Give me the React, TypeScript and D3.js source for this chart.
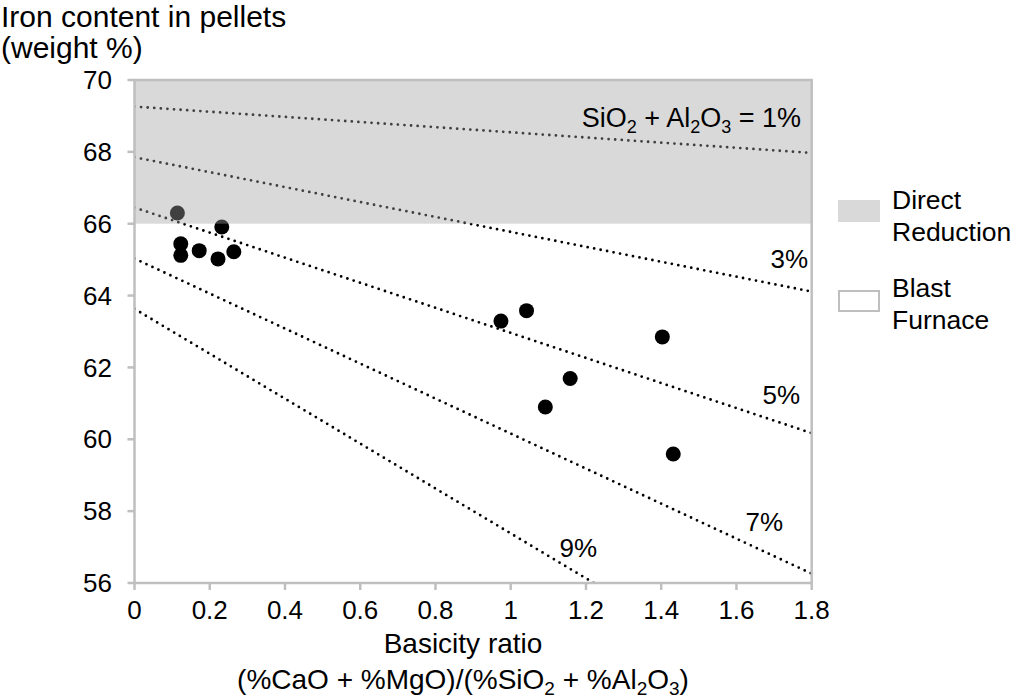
import React from "react";
import * as d3 from "d3";

// Pellet samples: basicity ratio vs iron content (weight %)
const basicity = [0.114, 0.232, 0.123, 0.123, 0.172, 0.222, 0.264, 0.974, 1.042, 1.403, 1.158, 1.092, 1.432];
const ironContent = [66.3, 65.91, 65.44, 65.12, 65.25, 65.02, 65.22, 63.29, 63.58, 62.85, 61.69, 60.9, 59.59];

// Iso-gangue lines (SiO2 + Al2O3 content): iron at basicity 0 and at basicity 1.8
const gangueLabels = ["1%", "3%", "5%", "7%", "9%"];
const ironAtZero = [69.26, 67.85, 66.45, 65.03, 63.63];
const ironAtMax = [67.97, 64.11, 60.17, 56.26, 52.38];

const xTicks = [0, 0.2, 0.4, 0.6, 0.8, 1, 1.2, 1.4, 1.6, 1.8];
const yTicks = [56, 58, 60, 62, 64, 66, 68, 70];
const directReductionMin = 66;

const W = 1015;
const H = 700;
const left = 134.5;
const right = 811.7;
const top = 80;
const bottom = 583;

const FONT = "'Liberation Sans', Arial, sans-serif";
const AXIS = "#bfbfbf";

function Chem({ parts, subSize }: { parts: Array<[string, boolean]>; subSize: number }) {
  // alternating normal / subscript runs
  let shifted = false;
  return (
    <>
      {parts.map(([s, sub], i) => {
        const dy = sub && !shifted ? 6 : !sub && shifted ? -6 : 0;
        shifted = sub;
        return (
          <tspan key={i} dy={dy} fontSize={sub ? subSize : undefined}>
            {s}
          </tspan>
        );
      })}
    </>
  );
}

export default function App() {
  const x = d3.scaleLinear().domain([0, 1.8]).range([left, right]);
  const y = d3.scaleLinear().domain([56, 70]).range([bottom, top]);
  const line = d3
    .line<[number, number]>()
    .x((d) => x(d[0]))
    .y((d) => y(d[1]));

  const fs = 26;
  const titleFs = 30;
  const xTitleFs = 28;

  return (
    <div style={{ position: "absolute", left: 0, top: 0 }}>
      <svg width={W} height={H} style={{ display: "block", background: "#fff" }} fontFamily={FONT}>
        <defs>
          <clipPath id="plotClip">
            <rect x={left} y={top} width={right - left} height={bottom - top} />
          </clipPath>
        </defs>

        {/* iso-gangue dotted lines */}
        <g clipPath="url(#plotClip)">
          {gangueLabels.map((lab, i) => (
            <path
              key={lab}
              d={line([
                [0, ironAtZero[i]],
                [1.8, ironAtMax[i]],
              ]) || ""}
              fill="none"
              stroke="#000"
              strokeWidth={2.8}
              strokeLinecap="round"
              strokeDasharray="0 6.6"
            />
          ))}
        </g>

        {/* sample points */}
        {basicity.map((b, i) => (
          <circle key={i} cx={x(b)} cy={y(ironContent[i])} r={7.5} fill="#000" />
        ))}

        {/* direct reduction band */}
        <rect
          x={x(0)}
          y={y(70)}
          width={x(1.8) - x(0)}
          height={y(directReductionMin) - y(70)}
          fill="rgb(160,160,160)"
          fillOpacity={0.4}
        />

        {/* plot frame */}
        <rect x={left} y={top} width={right - left} height={bottom - top} fill="none" stroke={AXIS} strokeWidth={2.5} />

        {/* y axis ticks and labels */}
        {yTicks.map((t) => (
          <g key={t}>
            <line x1={left - 7} x2={left} y1={y(t)} y2={y(t)} stroke={AXIS} strokeWidth={2.5} />
            <text x={112} y={y(t)} dy="0.35em" textAnchor="end" fontSize={fs} fill="#000">
              {t}
            </text>
          </g>
        ))}

        {/* x axis ticks and labels */}
        {xTicks.map((t) => (
          <g key={t}>
            <line x1={x(t)} x2={x(t)} y1={bottom} y2={bottom + 7} stroke={AXIS} strokeWidth={2.5} />
            <text x={x(t)} y={619} textAnchor="middle" fontSize={fs} fill="#000">
              {t}
            </text>
          </g>
        ))}

        {/* line labels */}
        <text x={801} y={127} textAnchor="end" fontSize={27} fill="#000">
          <Chem subSize={18} parts={[["SiO", false], ["2", true], [" + Al", false], ["2", true], ["O", false], ["3", true], [" = " + gangueLabels[0], false]]} />
        </text>
        <text x={808} y={268} textAnchor="end" fontSize={fs} fill="#000">{gangueLabels[1]}</text>
        <text x={800} y={404} textAnchor="end" fontSize={fs} fill="#000">{gangueLabels[2]}</text>
        <text x={783} y={531} textAnchor="end" fontSize={fs} fill="#000">{gangueLabels[3]}</text>
        <text x={597} y={557} textAnchor="end" fontSize={fs} fill="#000">{gangueLabels[4]}</text>

        {/* axis titles */}
        <text x={1} y={27} fontSize={titleFs} fill="#000">Iron content in pellets</text>
        <text x={1} y={58} fontSize={titleFs} fill="#000">(weight %)</text>
        <text x={463} y={653} textAnchor="middle" fontSize={xTitleFs} fill="#000">Basicity ratio</text>
        <text x={463} y={689} textAnchor="middle" fontSize={xTitleFs} fill="#000">
          <Chem subSize={19} parts={[["(%CaO + %MgO)/(%SiO", false], ["2", true], [" + %Al", false], ["2", true], ["O", false], ["3", true], [")", false]]} />
        </text>

        {/* legend */}
        <rect x={838} y={200} width={42} height={22} fill="#d9d9d9" />
        <text x={892} y={209} fontSize={26.5} fill="#000">Direct</text>
        <text x={892} y={241} fontSize={26.5} fill="#000">Reduction</text>
        <rect x={839} y={291} width={40} height={20} fill="#fff" stroke={AXIS} strokeWidth={2} />
        <text x={892} y={297} fontSize={26.5} fill="#000">Blast</text>
        <text x={892} y={329} fontSize={26.5} fill="#000">Furnace</text>
      </svg>
    </div>
  );
}
